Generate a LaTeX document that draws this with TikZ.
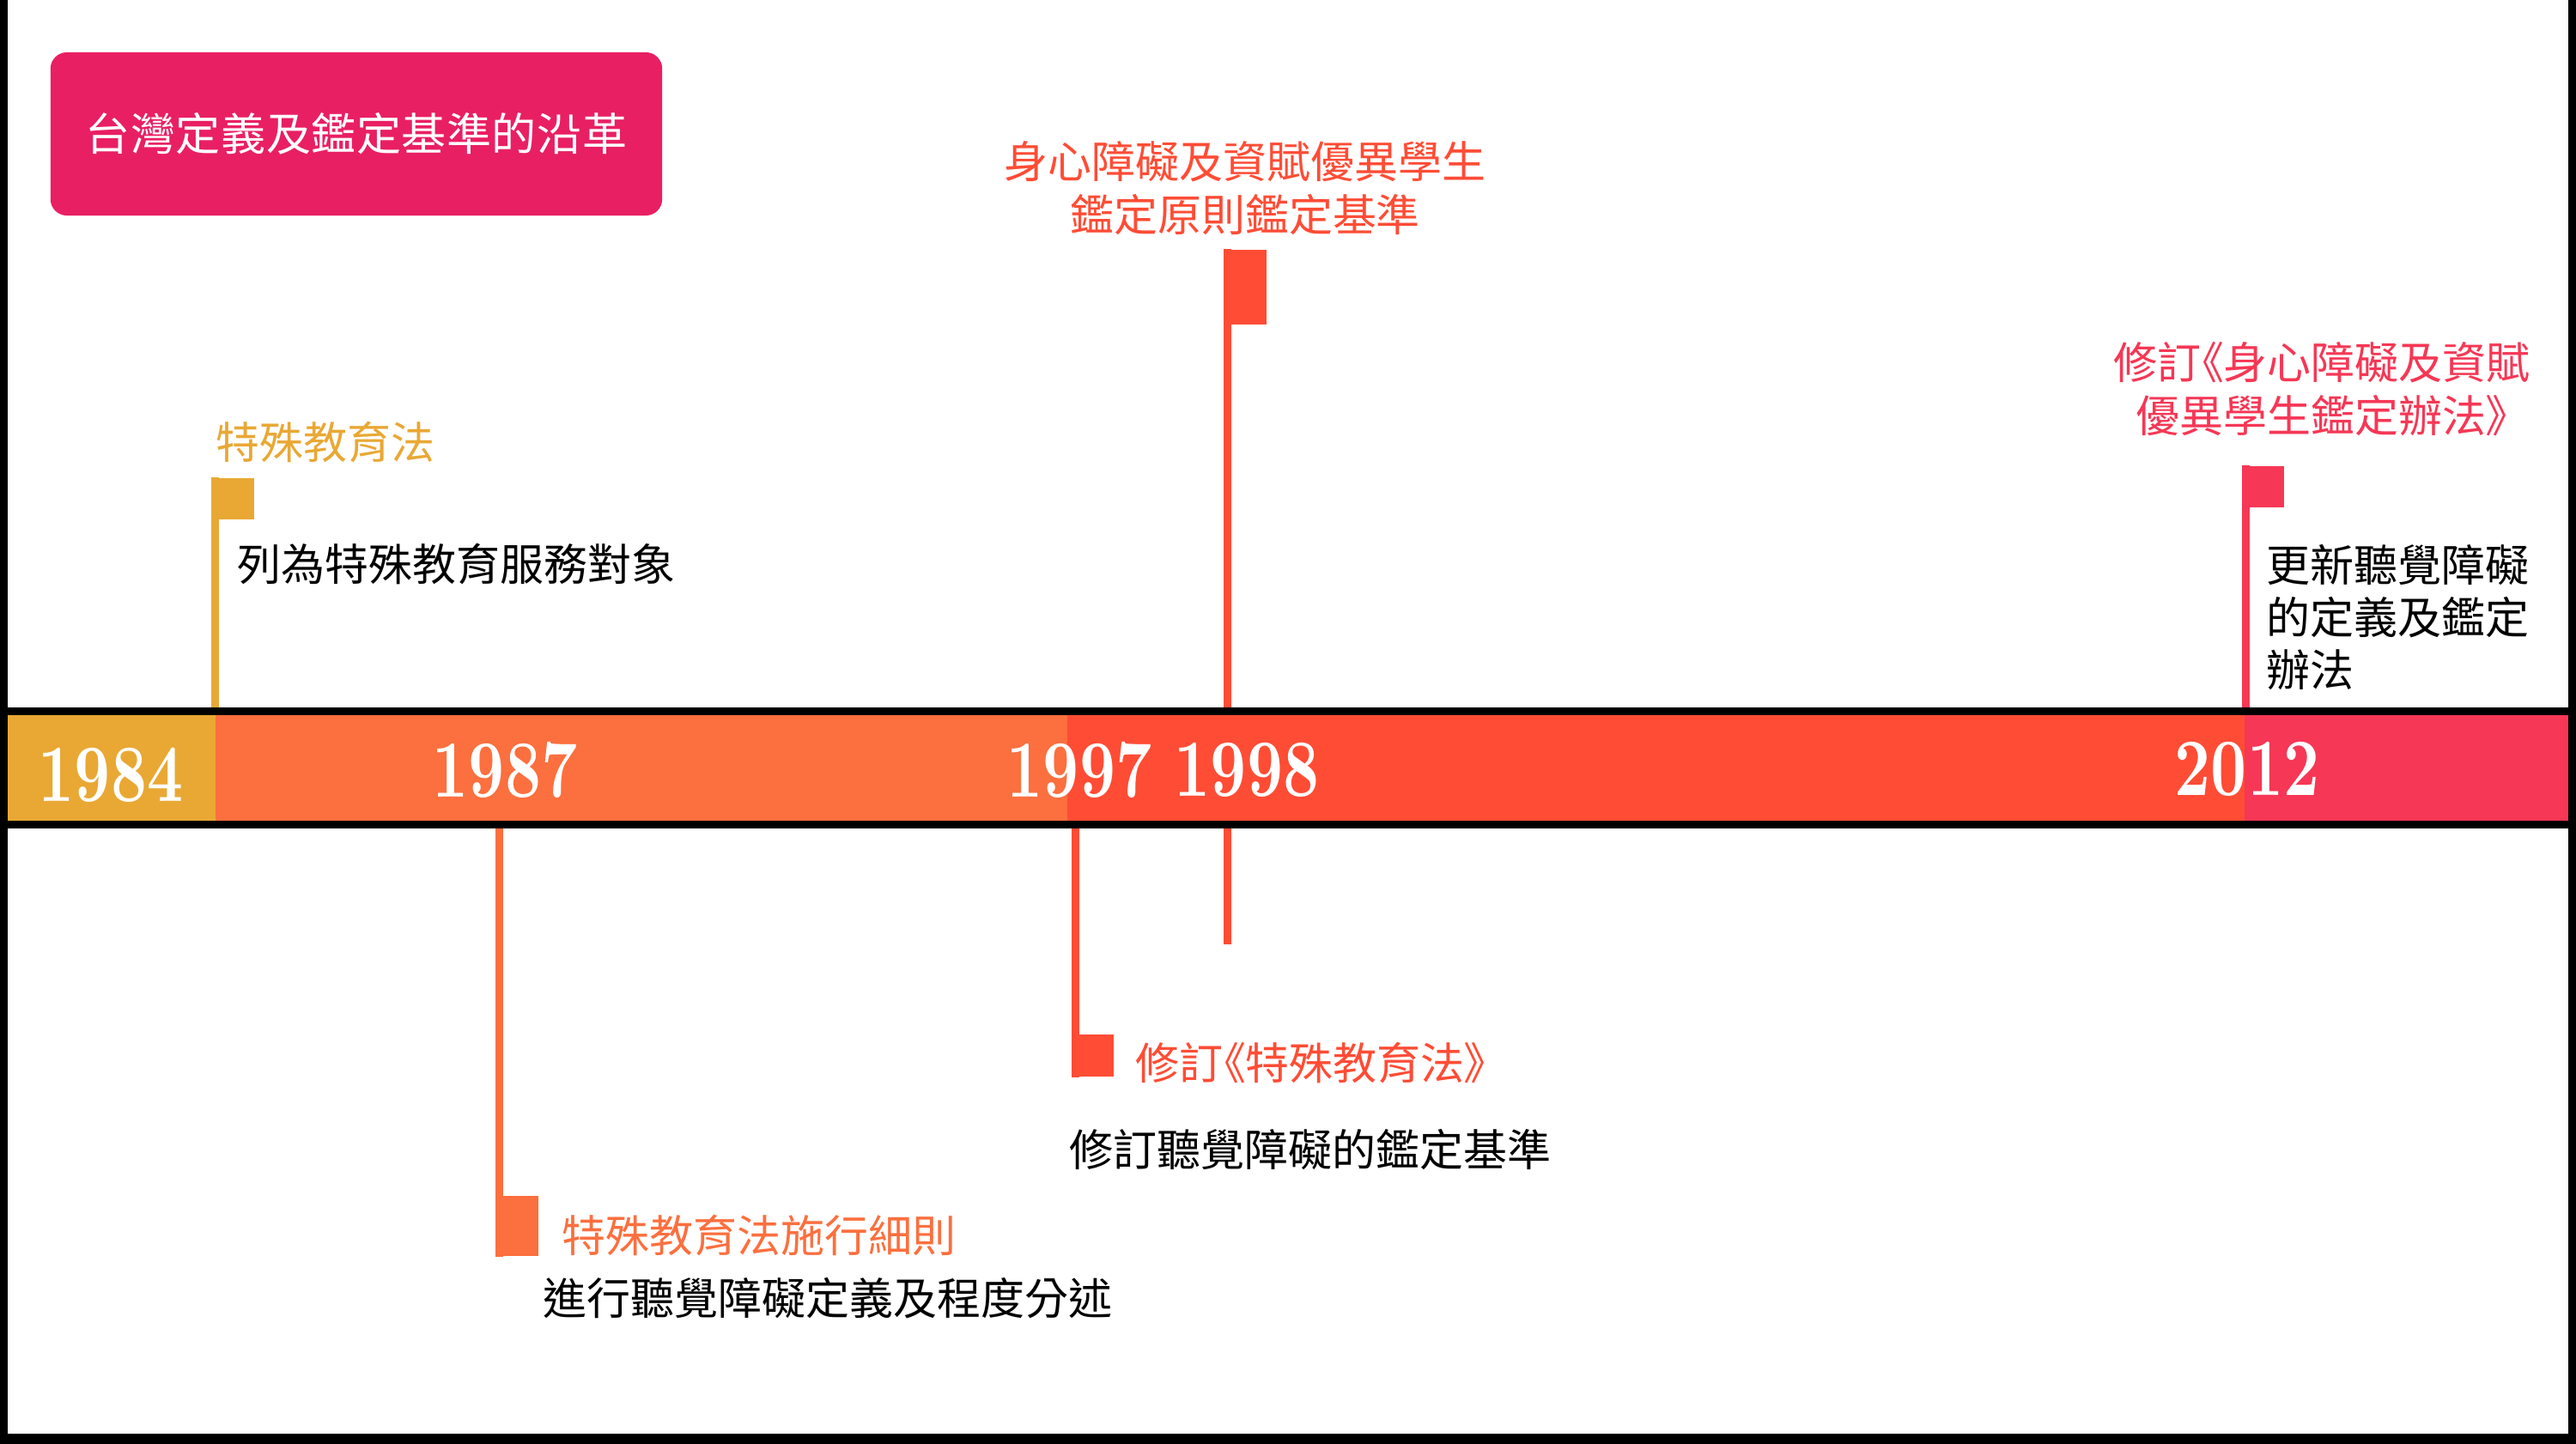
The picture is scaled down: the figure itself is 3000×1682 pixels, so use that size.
\documentclass[tikz,border=0pt]{standalone}
\usepackage{fontspec}
\newfontfamily\cjk[RawFeature=+palt]{Noto Sans CJK TC}
\newfontfamily\cjktitle[LetterSpace=1]{Noto Sans CJK TC}
\newfontfamily\yearfont[FakeStretch=0.77, Extension=.otf]{lmroman10-bold}
\usetikzlibrary{calc,
                positioning}

\definecolor{amber}{HTML}{E9A834}
\definecolor{tangerine}{HTML}{FC6F3E}
\definecolor{vermilion}{HTML}{FF4C35}
\definecolor{rose}{HTML}{F63755}
\definecolor{titlepink}{HTML}{E91F63}

\begin{document}
\begin{tikzpicture}[
        x=0.01cm, y=-0.01cm,
        titlebox/.style={rectangle, rounded corners=0.19cm, minimum width=7.12cm, minimum height=1.9cm, inner sep=0, fill=titlepink, text=white, font=\cjktitle\fontsize{14.8}{17}\selectfont},
        year/.style={inner sep=0, text=white, font=\yearfont\fontsize{27}{27}\selectfont},
        flag/.style={rectangle, inner sep=0, draw=none},
        stem/.style={line width=0.09cm},
        head/.style={inner sep=0, align=center, font=\cjk\fontsize{14.5}{17.6}\selectfont},
        note/.style={inner sep=0, align=left, text=black, font=\cjk\fontsize{14.5}{17.4}\selectfont}
        ]

        \useasboundingbox (0,0) rectangle (3000,1682);
        \fill[white] (0,0) rectangle (3000,1682);

        % frame
        \fill[black] (0,0) rectangle (9,1682);
        \fill[black] (2991,0) rectangle (3000,1682);
        \fill[black] (0,1670) rectangle (3000,1682);

        \node (title) [titlebox] at (415,156) {台灣定義及鑑定基準的沿革};

        \coordinate (bartop) at (0,824);
        \coordinate (barbot) at (0,965);

        % stems and flags
        \coordinate (s1984) at (250.5,556);
        \coordinate (s1987) at (581,1464);
        \coordinate (s1997) at (1252.5,1255);
        \coordinate (s1998) at (1429.5,290);
        \coordinate (e1998) at (1429.5,1100);
        \coordinate (s2012) at (2615.5,542);

        \node (f1984) [flag, fill=amber, minimum width=0.49cm, minimum height=0.48cm, anchor=north west] at ([xshift=-0.045cm]s1984) {};
        \node (f1987) [flag, fill=tangerine, minimum width=0.50cm, minimum height=0.70cm, anchor=south west] at ([xshift=-0.05cm]s1987) {};
        \node (f1997) [flag, fill=vermilion, minimum width=0.48cm, minimum height=0.49cm, anchor=south west] at ([xshift=-0.045cm]s1997) {};
        \node (f1998) [flag, fill=vermilion, minimum width=0.49cm, minimum height=0.87cm, anchor=north west] at ([xshift=-0.045cm]s1998) {};
        \node (f2012) [flag, fill=rose, minimum width=0.48cm, minimum height=0.48cm, anchor=north west] at ([xshift=-0.045cm]s2012) {};

        \draw [stem, amber]     (s1984) -- (s1984 |- bartop);
        \draw [stem, tangerine] (s1987 |- barbot) -- (s1987);
        \draw [stem, vermilion] (s1997 |- barbot) -- (s1997);
        \draw [stem, vermilion] (s1998) -- (e1998);
        \draw [stem, rose]      (s2012) -- (s2012 |- bartop);

        % timeline bar
        \fill[black] (bartop) rectangle (3000,965);
        \fill[amber]     (9,833)    rectangle (251,956);
        \fill[tangerine] (251,833)  rectangle (1243,956);
        \fill[vermilion] (1243,833) rectangle (2614,956);
        \fill[rose]      (2614,833) rectangle (2991,956);

        \node (y1984) [year] at (129,903) {1984};
        \node (y1987) [year] at (588,897) {1987};
        \node (y1997) [year] at (1257,897) {1997};
        \node (y1998) [year] at (1452,897) {1998};
        \node (y2012) [year] at (2617,896) {2012};

        % labels
        \node (h1984) [head, text=amber, anchor=west] at (251,515) {特殊教育法};
        \node (n1984) [note, anchor=west] at (276,657) {列為特殊教育服務對象};

        \node (h1987) [head, text=tangerine, anchor=west] at (654,1439) {特殊教育法施行細則};
        \node (n1987) [note, anchor=west] at (632,1512) {進行聽覺障礙定義及程度分述};

        \node (h1997) [head, text=vermilion, anchor=west] at (1322,1238) {修訂《特殊教育法》};
        \node (n1997) [note, anchor=west] at (1245,1339) {修訂聽覺障礙的鑑定基準};

        \node (h1998) [head, text=vermilion] at (1450,219) {身心障礙及資賦優異學生\\鑑定原則鑑定基準};

        \node (h2012) [head, text=rose] at (2704,453) {修訂《身心障礙及資賦\\優異學生鑑定辦法》};
        \node (n2012) [note, anchor=west] at (2639,719) {更新聽覺障礙\\的定義及鑑定\\辦法};

\end{tikzpicture}
\end{document}
